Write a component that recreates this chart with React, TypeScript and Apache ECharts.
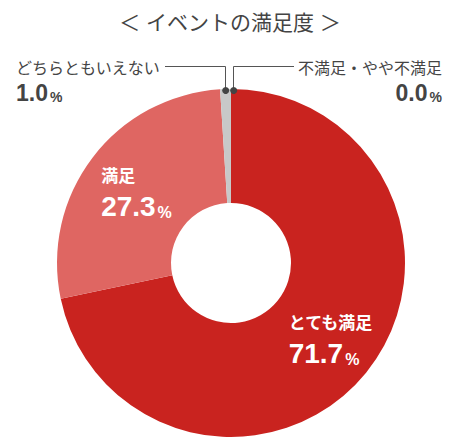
import React, { useEffect, useRef } from "react";
import * as echarts from "echarts";

const TITLE = "＜ イベントの満足度 ＞";
const categories = ["とても満足", "満足", "どちらともいえない", "不満足・やや不満足"];
const values = [71.7, 27.3, 1.0, 0.0];
const colors = ["#c9231f", "#df6662", "#c8c8c8", "#8a8a8a"];

const FONT = "'Liberation Sans', 'Noto Sans CJK JP', sans-serif";

export default function App() {
  const ref = useRef<HTMLDivElement>(null);
  useEffect(() => {
    document.body.style.margin = "0";
    if (!ref.current) return;
    const chart = echarts.init(ref.current, null, { renderer: "svg" });
    const lineColor = "#555";
    const outsideText = (x: number, name: string, val: number, align: "left" | "right") => [
      {
        type: "text",
        x,
        y: 68,
        style: {
          text: name,
          fill: "#444",
          font: `16px ${FONT}`,
          align,
          verticalAlign: "middle",
        },
      },
      {
        type: "text",
        x,
        y: 104,
        style: {
          text: `{v|${val.toFixed(1)}}{p|%}`,
          align,
          verticalAlign: "bottom",
          rich: {
            v: { fontSize: 23, fontWeight: "bold", fill: "#444", fontFamily: FONT, lineHeight: 26, verticalAlign: "bottom" },
            p: { fontSize: 14, fontWeight: "bold", fill: "#444", fontFamily: FONT, lineHeight: 22, verticalAlign: "bottom", padding: [0, 0, 0, 2] },
          },
        },
      },
    ];
    chart.setOption({
      animation: false,
      title: {
        text: TITLE,
        left: "center",
        top: 7,
        textStyle: { fontSize: 21, fontWeight: "normal", color: "#444", fontFamily: FONT },
      },
      graphic: [
        {
          type: "polyline",
          shape: { points: [[165, 66.5], [225.5, 66.5], [225.5, 90]] },
          style: { stroke: lineColor, lineWidth: 1, fill: "none" },
          z: 10,
        },
        {
          type: "polyline",
          shape: { points: [[233.5, 90], [233.5, 66.5], [294, 66.5]] },
          style: { stroke: lineColor, lineWidth: 1, fill: "none" },
          z: 10,
        },
        { type: "circle", shape: { cx: 225.7, cy: 90.5, r: 3.5 }, style: { fill: "#444" }, z: 11 },
        { type: "circle", shape: { cx: 233.7, cy: 90.5, r: 3.5 }, style: { fill: "#444" }, z: 11 },
        ...outsideText(16, categories[2], values[2], "left"),
        ...outsideText(442, categories[3], values[3], "right"),
      ],
      series: [
        {
          type: "pie",
          center: [231, 263],
          radius: [60, 174],
          startAngle: 90,
          clockwise: true,
          avoidLabelOverlap: false,
          silent: true,
          emphasis: { disabled: true },
          itemStyle: { borderWidth: 0 },
          labelLine: { show: false },
          labelLayout: (p: any) => (p.dataIndex === 0 ? { dx: 7, dy: 1 } : { dx: 1, dy: 2 }),
          data: categories.map((name, i) => ({
            name,
            value: values[i],
            itemStyle: { color: colors[i] },
            label: {
              show: i < 2,
              position: "inside",
              formatter: (p: any) => `{n|${p.name}}\n{v|${Number(p.value).toFixed(1)}}{p|%}`,
              rich: {
                n: { fontSize: 17, fontWeight: "bold", color: "#fff", fontFamily: FONT, lineHeight: 24, align: "left" },
                v: { fontSize: 28, fontWeight: "bold", color: "#fff", fontFamily: FONT, lineHeight: 32, align: "left", verticalAlign: "bottom" },
                p: { fontSize: 16, fontWeight: "bold", color: "#fff", fontFamily: FONT, lineHeight: 26, align: "left", verticalAlign: "bottom", padding: [0, 0, 0, 2] },
              },
            },
          })),
        },
      ],
    });
    return () => chart.dispose();
  }, []);
  return <div ref={ref} style={{ width: 460, height: 440 }} />;
}
